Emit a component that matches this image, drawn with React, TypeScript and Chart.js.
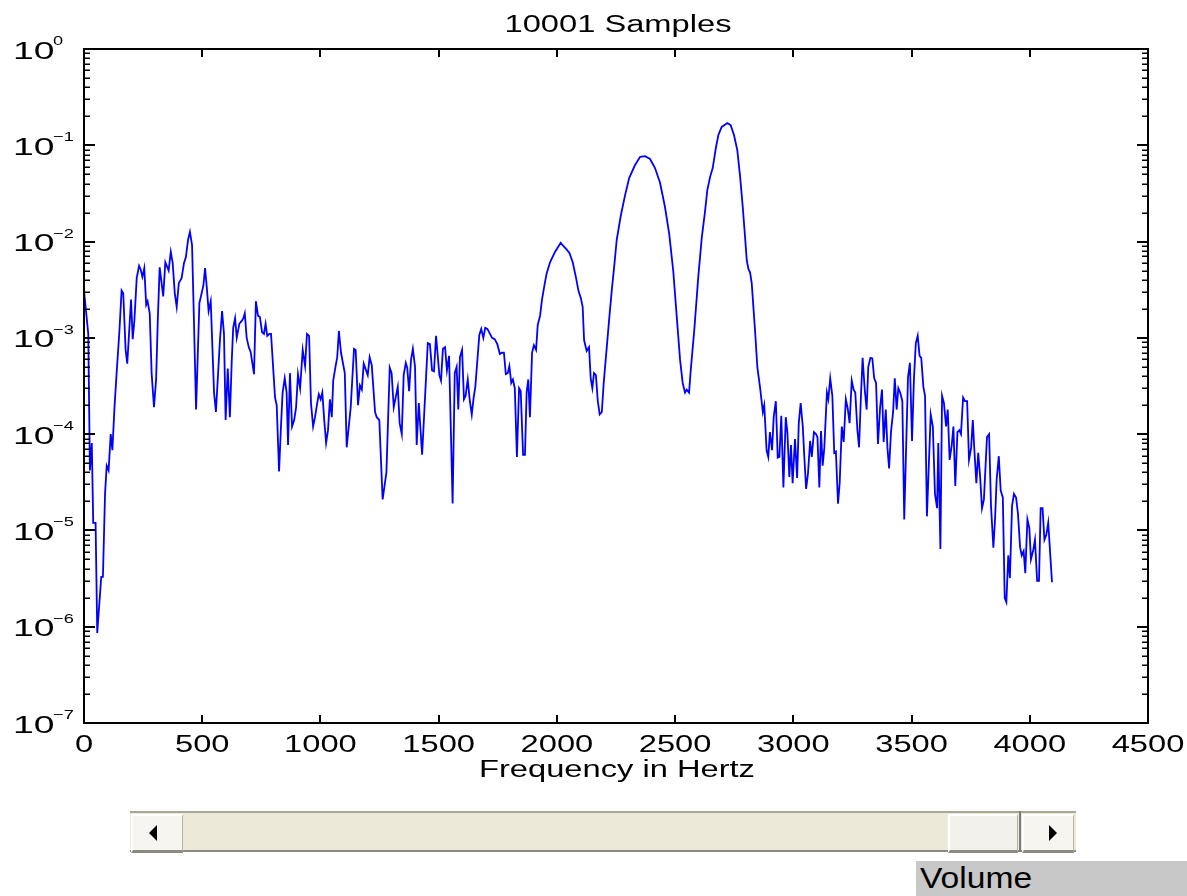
import React, { useEffect, useRef } from 'react';
import { Chart, registerables } from 'chart.js';

Chart.register(...registerables);

// Magnitude spectrum of the recorded signal (linear frequency, log magnitude)
const freqHz = [
  0, 18, 25, 33, 39, 49, 56, 73, 80, 89, 96, 104, 113, 120, 129, 138, 150, 159, 166, 176,
  183, 199, 206, 213, 223, 233, 240, 247, 255, 263, 269, 278, 286, 296, 305, 312, 320, 335, 344, 358,
  367, 375, 384, 392, 401, 413, 423, 431, 440, 448, 457, 465, 474, 488, 505, 512, 519, 527, 536, 550,
  558, 575, 584, 592, 599, 608, 617, 625, 631, 639, 646, 657, 667, 674, 680, 688, 697, 705, 719, 727,
  736, 744, 753, 761, 768, 775, 784, 791, 808, 815, 825, 833, 840, 849, 857, 863, 871, 880, 889, 897,
  905, 914, 925, 935, 943, 952, 960, 969, 977, 985, 993, 1001, 1008, 1016, 1024, 1032, 1040, 1048, 1054, 1063,
  1071, 1078, 1087, 1103, 1111, 1128, 1142, 1149, 1159, 1167, 1175, 1183, 1200, 1208, 1217, 1231, 1238, 1249, 1263, 1279,
  1293, 1301, 1310, 1327, 1335, 1344, 1352, 1361, 1367, 1375, 1383, 1391, 1400, 1407, 1416, 1430, 1444, 1454, 1463, 1472,
  1480, 1489, 1503, 1510, 1518, 1527, 1535, 1544, 1559, 1568, 1576, 1583, 1590, 1599, 1607, 1614, 1623, 1631, 1640, 1648,
  1655, 1672, 1680, 1689, 1697, 1706, 1726, 1737, 1748, 1759, 1767, 1776, 1784, 1792, 1799, 1807, 1814, 1822, 1831, 1840,
  1847, 1857, 1865, 1872, 1879, 1886, 1895, 1903, 1912, 1919, 1929, 1937, 1948, 1957, 1971, 1992, 2016, 2027, 2039, 2053,
  2067, 2081, 2091, 2101, 2109, 2115, 2126, 2136, 2143, 2150, 2157, 2165, 2173, 2181, 2190, 2198, 2211, 2222, 2232, 2242,
  2253, 2271, 2288, 2306, 2330, 2352, 2373, 2394, 2415, 2436, 2457, 2475, 2492, 2507, 2521, 2532, 2542, 2549, 2559, 2566,
  2581, 2598, 2613, 2627, 2636, 2648, 2659, 2673, 2683, 2697, 2721, 2735, 2749, 2763, 2775, 2786, 2796, 2803, 2810, 2817,
  2824, 2838, 2848, 2859, 2871, 2877, 2887, 2894, 2901, 2910, 2917, 2926, 2934, 2941, 2949, 2958, 2968, 2975, 2983, 2990,
  2997, 3007, 3016, 3023, 3031, 3040, 3046, 3054, 3062, 3071, 3078, 3087, 3096, 3102, 3110, 3117, 3124, 3131, 3142, 3148,
  3156, 3165, 3173, 3180, 3189, 3196, 3205, 3213, 3222, 3230, 3238, 3247, 3255, 3262, 3271, 3278, 3286, 3293, 3302, 3310,
  3317, 3326, 3334, 3342, 3350, 3358, 3367, 3375, 3382, 3391, 3398, 3405, 3413, 3422, 3429, 3437, 3444, 3452, 3461, 3469,
  3485, 3493, 3502, 3510, 3518, 3526, 3534, 3541, 3550, 3557, 3565, 3581, 3590, 3599, 3608, 3613, 3622, 3629, 3637, 3646,
  3653, 3661, 3670, 3677, 3685, 3694, 3702, 3709, 3718, 3726, 3735, 3743, 3752, 3759, 3765, 3774, 3782, 3790, 3798, 3806,
  3819, 3828, 3836, 3846, 3853, 3860, 3869, 3877, 3886, 3894, 3901, 3909, 3916, 3925, 3933, 3942, 3950, 3959, 3966, 3974,
  3981, 3990, 3998, 4005, 4015, 4022, 4031, 4039, 4046, 4054, 4062, 4070, 4078, 4094,
];

const magnitude = [
  3.1e-3, 1.1e-3, 4.2e-5, 8.1e-5, 1.2e-5, 1.2e-5, 8.6e-7, 3.3e-6, 3.3e-6, 2.4e-5, 4.7e-5, 4.2e-5, 1.0e-4, 6.8e-5, 1.9e-4, 4.3e-4, 1.2e-3, 3.1e-3, 2.9e-3, 7.5e-4,
  5.4e-4, 2.5e-3, 9.7e-4, 1.5e-3, 4.2e-3, 5.6e-3, 5.1e-3, 4.3e-3, 5.3e-3, 2.2e-3, 2.4e-3, 1.8e-3, 4.3e-4, 1.9e-4, 3.7e-4, 1.5e-3, 5.4e-3, 2.7e-3, 6.1e-3, 5.0e-3,
  7.8e-3, 6.0e-3, 2.9e-3, 2.1e-3, 3.7e-3, 4.2e-3, 6.0e-3, 6.9e-3, 1.04e-2, 1.26e-2, 9.2e-3, 1.5e-3, 1.8e-4, 2.3e-3, 3.5e-3, 5.3e-3, 3.4e-3, 1.9e-3, 2.4e-3, 2.7e-4,
  1.7e-4, 9.5e-4, 1.9e-3, 1.1e-3, 1.4e-4, 4.8e-4, 1.5e-4, 5.9e-4, 1.27e-3, 1.6e-3, 1.0e-3, 1.4e-3, 1.5e-3, 1.6e-3, 1.8e-3, 1.0e-3, 8.0e-4, 7.1e-4, 4.2e-4, 2.4e-3,
  1.7e-3, 1.65e-3, 1.15e-3, 1.1e-3, 1.4e-3, 1.05e-3, 1.1e-3, 1.1e-3, 2.4e-4, 2.0e-4, 4.1e-5, 1.2e-4, 2.7e-4, 3.8e-4, 2.7e-4, 7.7e-5, 4.3e-4, 1.2e-4, 1.4e-4, 1.9e-4,
  4.2e-4, 3.0e-4, 7.5e-4, 5.1e-4, 1.1e-3, 1.05e-3, 2.1e-4, 1.2e-4, 1.5e-4, 2.0e-4, 2.6e-4, 2.3e-4, 2.7e-4, 1.4e-4, 8.1e-5, 1.1e-4, 2.3e-4, 1.5e-4, 3.6e-4, 4.9e-4,
  6.3e-4, 1.18e-3, 7.0e-4, 4.3e-4, 7.3e-5, 1.9e-4, 7.7e-4, 7.5e-4, 2.0e-4, 3.2e-4, 2.9e-4, 5.4e-4, 4.1e-4, 6.3e-4, 5.2e-4, 1.7e-4, 1.5e-4, 1.4e-4, 2.1e-5, 4.0e-5,
  4.9e-4, 4.3e-4, 1.9e-4, 3.1e-4, 1.3e-4, 1.0e-4, 4.1e-4, 5.5e-4, 4.9e-4, 2.8e-4, 5.9e-4, 7.7e-4, 5.0e-4, 7.7e-5, 2.1e-4, 6.1e-5, 2.9e-4, 8.8e-4, 8.6e-4, 4.6e-4,
  4.5e-4, 1.05e-3, 4.1e-4, 3.6e-4, 7.7e-4, 8.0e-4, 4.6e-4, 6.5e-4, 1.9e-5, 4.3e-4, 5.0e-4, 1.8e-4, 6.3e-4, 7.5e-4, 2.3e-4, 2.5e-4, 3.7e-4, 2.3e-4, 1.6e-4, 2.4e-4,
  3.1e-4, 1.07e-3, 1.24e-3, 1.0e-3, 1.27e-3, 1.24e-3, 1.0e-3, 9.7e-4, 8.6e-4, 6.8e-4, 7.0e-4, 7.0e-4, 4.2e-4, 4.3e-4, 5.1e-4, 3.4e-4, 3.7e-4, 3.0e-4, 5.8e-5, 3.0e-4,
  2.8e-4, 6.1e-5, 6.1e-5, 2.7e-4, 3.7e-4, 1.5e-4, 7.0e-4, 8.4e-4, 7.5e-4, 1.36e-3, 1.7e-3, 2.5e-3, 3.6e-3, 4.7e-3, 6.1e-3, 7.8e-3, 9.7e-3, 9.0e-3, 8.4e-3, 7.6e-3,
  6.1e-3, 4.2e-3, 3.1e-3, 2.6e-3, 2.1e-3, 9.5e-4, 7.3e-4, 8.0e-4, 3.8e-4, 3.0e-4, 4.3e-4, 4.1e-4, 2.2e-4, 1.6e-4, 1.7e-4, 3.4e-4, 8.0e-4, 1.65e-3, 3.1e-3, 5.4e-3,
  1.04e-2, 1.9e-2, 3.0e-2, 4.6e-2, 6.2e-2, 7.6e-2, 7.7e-2, 7.2e-2, 5.8e-2, 4.1e-2, 2.3e-2, 1.2e-2, 5.0e-3, 1.65e-3, 5.9e-4, 3.4e-4, 2.7e-4, 2.9e-4, 2.7e-4, 4.6e-4,
  1.2e-3, 4.3e-3, 1.11e-2, 2.1e-2, 3.4e-2, 4.7e-2, 5.8e-2, 9.6e-2, 1.28e-1, 1.55e-1, 1.7e-1, 1.62e-1, 1.28e-1, 8.9e-2, 4.7e-2, 2.3e-2, 1.1e-2, 6.4e-3, 5.2e-3, 4.8e-3,
  3.7e-3, 1.2e-3, 4.9e-4, 3.1e-4, 1.7e-4, 2.0e-4, 6.8e-5, 5.8e-5, 1.05e-4, 6.8e-5, 1.5e-4, 2.2e-4, 5.7e-5, 5.8e-5, 1.55e-4, 2.8e-5, 1.5e-4, 1.03e-4, 3.6e-5, 7.7e-5,
  3.1e-5, 8.9e-5, 3.5e-5, 1.3e-4, 2.1e-4, 1.2e-4, 6.1e-5, 2.7e-5, 3.9e-5, 8.5e-5, 5.8e-5, 1.05e-4, 1.0e-4, 9.3e-5, 2.8e-5, 1.08e-4, 4.7e-5, 7.2e-5, 2.7e-4, 2.3e-4,
  3.8e-4, 2.5e-4, 6.4e-5, 6.6e-5, 1.9e-5, 3.1e-5, 1.2e-4, 8.3e-5, 2.3e-4, 1.85e-4, 1.3e-4, 3.6e-4, 2.9e-4, 2.7e-4, 1.1e-4, 7.3e-5, 2.5e-4, 6.2e-4, 2.9e-4, 1.8e-4,
  5.0e-4, 6.2e-4, 6.1e-4, 3.8e-4, 3.4e-4, 7.9e-5, 1.9e-4, 2.9e-4, 8.3e-5, 1.8e-4, 7.2e-5, 4.4e-5, 1.05e-4, 1.7e-4, 3.8e-4, 1.8e-4, 3.0e-4, 2.7e-4, 2.2e-4, 1.3e-5,
  3.9e-4, 5.5e-4, 8.5e-5, 3.7e-4, 8.8e-4, 1.05e-3, 6.5e-4, 6.2e-4, 3.1e-4, 2.5e-4, 1.4e-5, 1.6e-4, 1.2e-4, 2.4e-5, 1.7e-5, 8.1e-5, 6.4e-6, 2.5e-4, 2.1e-4, 1.2e-4,
  1.8e-4, 5.4e-5, 7.7e-5, 1.2e-4, 2.9e-5, 1.05e-4, 1.1e-4, 1.0e-4, 2.4e-4, 2.2e-4, 2.2e-4, 5.4e-5, 7.2e-5, 1.4e-4, 7.3e-5, 3.1e-5, 6.4e-5, 3.6e-5, 1.7e-5, 2.1e-5,
  9.3e-5, 1.0e-4, 1.8e-5, 6.6e-6, 1.3e-5, 3.4e-5, 5.9e-5, 2.6e-5, 2.2e-5, 2.0e-6, 1.8e-6, 5.5e-6, 3.2e-6, 1.8e-5, 2.4e-5, 2.2e-5, 1.5e-5, 6.7e-6, 5.5e-6, 6.1e-6,
  3.6e-6, 1.3e-5, 1.06e-5, 5.0e-6, 6.3e-6, 8.0e-6, 3.0e-6, 3.0e-6, 1.7e-5, 1.7e-5, 8.0e-6, 9.0e-6, 1.2e-5, 2.9e-6,
];

const xTickValues = [0, 500, 1000, 1500, 2000, 2500, 3000, 3500, 4000, 4500];
const yDecadeExponents = [0, -1, -2, -3, -4, -5, -6, -7];
const minorMantissas = [2, 3, 4, 5, 6, 7, 8, 9];

const titleText = '10001 Samples';
const xAxisTitle = 'Frequency in Hertz';
const sliderLabel = 'Volume';

const FONT_FAMILY = '"Liberation Sans", Arial, Helvetica, sans-serif';
const TEXT_STRETCH = 1.42;

function drawStretched(
  ctx: CanvasRenderingContext2D,
  text: string,
  x: number,
  y: number,
  sizePx: number,
  stretch: number,
  align: 'left' | 'center' | 'right'
) {
  ctx.save();
  ctx.font = `${sizePx}px ${FONT_FAMILY}`;
  ctx.textAlign = 'left';
  ctx.textBaseline = 'alphabetic';
  const w = ctx.measureText(text).width;
  ctx.translate(x, y);
  ctx.scale(stretch, 1);
  const ox = align === 'center' ? -w / 2 : align === 'right' ? -w : 0;
  ctx.fillText(text, ox, 0);
  ctx.restore();
}

// Boxed axes with inward ticks, log minor ticks and TeX-like decade labels
const boxedAxesPlugin = {
  id: 'boxedAxes',
  afterDraw(chart: any) {
    const { ctx, chartArea: a, scales } = chart;
    const xs = scales.x;
    const ys = scales.y;
    ctx.save();
    ctx.strokeStyle = '#000';
    ctx.fillStyle = '#000';

    // frame
    ctx.lineWidth = 2;
    ctx.strokeRect(a.left, a.top, a.right - a.left, a.bottom - a.top);

    // x major ticks (bottom and top)
    ctx.beginPath();
    for (const v of xTickValues) {
      const px = Math.round(xs.getPixelForValue(v));
      ctx.moveTo(px, a.bottom);
      ctx.lineTo(px, a.bottom - 8);
      ctx.moveTo(px, a.top);
      ctx.lineTo(px, a.top + 8);
    }
    ctx.stroke();

    // y major ticks (left and right)
    ctx.beginPath();
    for (const e of yDecadeExponents) {
      const py = Math.round(ys.getPixelForValue(Math.pow(10, e)));
      ctx.moveTo(a.left, py);
      ctx.lineTo(a.left + 11, py);
      ctx.moveTo(a.right, py);
      ctx.lineTo(a.right - 11, py);
    }
    ctx.stroke();

    // y minor ticks
    ctx.lineWidth = 1.5;
    ctx.beginPath();
    for (const e of yDecadeExponents) {
      if (e === 0) continue;
      for (const m of minorMantissas) {
        const py = Math.round(ys.getPixelForValue(m * Math.pow(10, e))) + 0.25;
        ctx.moveTo(a.left, py);
        ctx.lineTo(a.left + 6, py);
        ctx.moveTo(a.right, py);
        ctx.lineTo(a.right - 6, py);
      }
    }
    ctx.stroke();

    // title
    drawStretched(ctx, titleText, (a.left + a.right) / 2 + 2, 32, 23, TEXT_STRETCH, 'center');

    // x tick labels
    for (const v of xTickValues) {
      drawStretched(ctx, String(v), xs.getPixelForValue(v), 752, 23, TEXT_STRETCH, 'center');
    }

    // x axis title
    drawStretched(ctx, xAxisTitle, (a.left + a.right) / 2 + 1, 777, 23, TEXT_STRETCH, 'center');

    // y decade labels: 10 with raised exponent
    for (const e of yDecadeExponents) {
      const py = ys.getPixelForValue(Math.pow(10, e));
      drawStretched(ctx, '10', 13, py + 9.5, 23, 1.62, 'left');
      const exp = e === 0 ? '0' : '\u2212' + String(-e);
      drawStretched(ctx, exp, 53, py - 4, 13, 1.4, 'left');
    }

    ctx.restore();
  },
};

function ArrowLeft() {
  return (
    <div
      style={{
        position: 'absolute',
        left: 16,
        top: 9,
        width: 0,
        height: 0,
        borderTop: '8px solid transparent',
        borderBottom: '8px solid transparent',
        borderRight: '8px solid #000',
      }}
    />
  );
}

function ArrowRight() {
  return (
    <div
      style={{
        position: 'absolute',
        left: 25,
        top: 9,
        width: 0,
        height: 0,
        borderTop: '8px solid transparent',
        borderBottom: '8px solid transparent',
        borderLeft: '8px solid #000',
      }}
    />
  );
}

const buttonStyle: React.CSSProperties = {
  position: 'absolute',
  top: 1,
  height: 34,
  background: '#F6F5F0',
  borderTop: '2px solid #FFFFFF',
  borderLeft: '2px solid #FFFFFF',
  borderBottom: '3px solid #8B8A80',
  borderRight: '1px solid #B5B4A8',
  boxSizing: 'content-box',
};

export default function App() {
  const canvasRef = useRef<HTMLCanvasElement | null>(null);

  useEffect(() => {
    const canvas = canvasRef.current;
    if (!canvas) return;
    const points = freqHz.map((f, i) => ({ x: f, y: magnitude[i] }));
    const chart = new Chart(canvas, {
      type: 'line',
      data: {
        datasets: [
          {
            data: points,
            borderColor: '#0000FF',
            borderWidth: 1.8,
            pointRadius: 0,
            fill: false,
            tension: 0,
          },
        ],
      },
      options: {
        animation: false,
        responsive: false,
        devicePixelRatio: 1,
        layout: { padding: { top: 49, right: 39, left: 0, bottom: 0 } },
        plugins: {
          legend: { display: false },
          title: { display: false },
          tooltip: { enabled: false },
        },
        scales: {
          x: {
            type: 'linear',
            min: 0,
            max: 4500,
            grid: { display: false },
            border: { display: false },
            ticks: { display: false },
            afterFit(scale: any) {
              scale.height = 77;
            },
          },
          y: {
            type: 'logarithmic',
            min: 1e-7,
            max: 1,
            grid: { display: false },
            border: { display: false },
            ticks: { display: false },
            afterFit(scale: any) {
              scale.width = 84;
            },
          },
        },
      } as any,
      plugins: [boxedAxesPlugin],
    });
    return () => chart.destroy();
  }, []);

  return (
    <div
      style={{
        position: 'absolute',
        left: 0,
        top: 0,
        width: 1187,
        height: 896,
        background: '#FFFFFF',
        overflow: 'hidden',
      }}
    >
      <canvas
        ref={canvasRef}
        width={1187}
        height={800}
        style={{ position: 'absolute', left: 0, top: 0, width: 1187, height: 800 }}
      />

      {/* horizontal slider */}
      <div
        style={{
          position: 'absolute',
          left: 130,
          top: 811,
          width: 946,
          height: 41,
          background: '#ECE9D8',
          boxSizing: 'border-box',
          borderTop: '2px solid #A9A798',
          borderBottom: '2px solid #8B8A80',
        }}
      >
        <div style={{ ...buttonStyle, left: 1, width: 49 }}>
          <ArrowLeft />
        </div>
        <div style={{ ...buttonStyle, left: 818, width: 67, background: '#F1F0EA' }} />
        <div
          style={{
            position: 'absolute',
            left: 889,
            top: -2,
            width: 2,
            height: 41,
            background: '#7E7D74',
          }}
        />
        <div style={{ ...buttonStyle, left: 892, width: 49 }}>
          <ArrowRight />
        </div>
      </div>

      {/* slider caption */}
      <div
        style={{
          position: 'absolute',
          left: 916,
          top: 861,
          width: 271,
          height: 35,
          background: '#C8C8C8',
        }}
      >
        <div
          style={{
            position: 'absolute',
            left: 4,
            top: -1,
            fontFamily: FONT_FAMILY,
            fontSize: 30,
            lineHeight: '36px',
            color: '#000',
            transform: 'scaleX(1.12)',
            transformOrigin: 'left top',
            whiteSpace: 'nowrap',
          }}
        >
          {sliderLabel}
        </div>
      </div>
    </div>
  );
}
